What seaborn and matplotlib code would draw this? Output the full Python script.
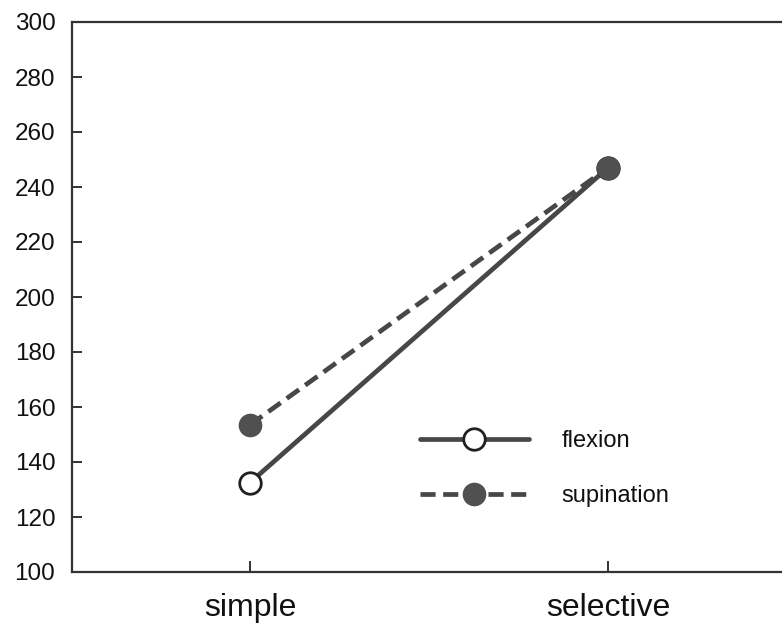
import matplotlib
matplotlib.use("Agg")
import matplotlib.pyplot as plt
import seaborn as sns
import pandas as pd

# task conditions and mean values for each movement
conditions = ["simple", "selective"]
flexion = [132.5, 247]
supination = [153.5, 247]
y_ticks = [100, 120, 140, 160, 180, 200, 220, 240, 260, 280, 300]

df = pd.DataFrame({
    "x": [0, 1] * 2,
    "value": flexion + supination,
    "movement": ["flexion"] * 2 + ["supination"] * 2,
})

sns.set_theme(style="white")
plt.rcParams["font.family"] = ["Liberation Sans", "DejaVu Sans"]

ink = "#474747"
fill = "#505050"
fig = plt.figure(figsize=(7.82, 6.23), dpi=100)
ax = fig.add_axes([72 / 782, 1 - 572 / 623, 1 - 72 / 782, (572 - 22) / 623])

sns.lineplot(data=df[df.movement == "flexion"], x="x", y="value", ax=ax,
             color=ink, lw=3.4, marker="o", markersize=15.5,
             markerfacecolor="white", markeredgecolor="#202020",
             markeredgewidth=2.0, label="flexion", zorder=3)
sns.lineplot(data=df[df.movement == "supination"], x="x", y="value", ax=ax,
             color=ink, lw=3.4, linestyle=(0, (3.2, 1.6)),
             marker="o", markersize=16, markerfacecolor=fill,
             markeredgecolor=fill, markeredgewidth=1.0, label="supination",
             zorder=4)

ax.set_xlim(-0.497, 1.486)
ax.set_ylim(100, 300)
ax.set_yticks(y_ticks)
ax.set_xticks([0, 1])
ax.set_xticklabels(conditions)
ax.set_xlabel("")
ax.set_ylabel("")

for side in ["left", "bottom", "top"]:
    ax.spines[side].set_color("#333333")
    ax.spines[side].set_linewidth(1.6)
ax.spines["right"].set_visible(False)

ax.tick_params(axis="y", left=True, direction="in", length=7, width=1.4,
               color="#333333", labelsize=17.5, pad=12, labelcolor="#111111")
ax.tick_params(axis="x", bottom=True, direction="in", length=8, width=1.4,
               color="#333333", labelsize=23, pad=15, labelcolor="#111111")

handles, labels = ax.get_legend_handles_labels()
order = [labels.index("flexion"), labels.index("supination")]
leg = ax.legend([handles[i] for i in order], [labels[i] for i in order],
                loc="upper left", bbox_to_anchor=(0.49, 0.258), frameon=False,
                fontsize=17, handlelength=4.6, handletextpad=1.4,
                labelspacing=1.4, borderaxespad=0, borderpad=0)
for t in leg.get_texts():
    t.set_color("#111111")

fig.savefig("out.png", dpi=100)
